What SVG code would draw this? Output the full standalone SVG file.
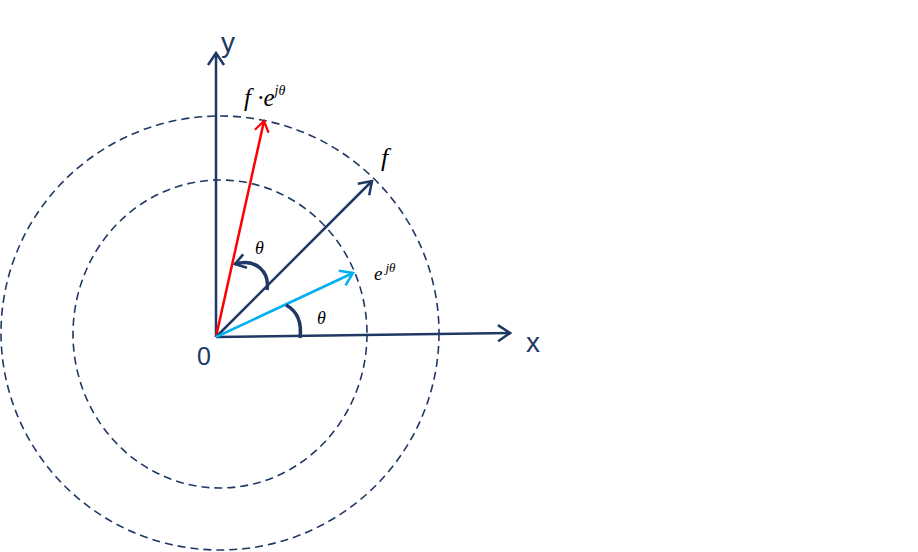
<svg xmlns="http://www.w3.org/2000/svg" width="918" height="552" viewBox="0 0 918 552">
<defs>
<style>
.ax{stroke:#1F3864;stroke-width:2.5;fill:none}
.circ{stroke:#1F3864;stroke-width:1.6;fill:none;stroke-dasharray:8 5}
.sans{font-family:"Liberation Sans",Arial,sans-serif;fill:#1F3864}
.math{font-family:"Liberation Serif","Times New Roman",serif;font-style:italic;fill:#000}
.ang{stroke:#1F3864;stroke-width:3.5;fill:none}
</style>
<marker id="hn" viewBox="0 0 16 20" refX="14" refY="10" markerWidth="16" markerHeight="20" markerUnits="userSpaceOnUse" orient="auto"><path d="M2,2 L14,10 L2,18" fill="none" stroke="#1F3864" stroke-width="2.5"/></marker>
<marker id="hr" viewBox="0 0 16 20" refX="14" refY="10" markerWidth="14" markerHeight="18" markerUnits="userSpaceOnUse" orient="auto"><path d="M2,2 L14,10 L2,18" fill="none" stroke="#FF0000" stroke-width="2.5"/></marker>
<marker id="hc" viewBox="0 0 16 20" refX="14" refY="10" markerWidth="16" markerHeight="20" markerUnits="userSpaceOnUse" orient="auto"><path d="M2,2 L14,10 L2,18" fill="none" stroke="#00B0F0" stroke-width="2.5"/></marker>
<marker id="ha" viewBox="0 0 16 20" refX="14" refY="10" markerWidth="14" markerHeight="18" markerUnits="userSpaceOnUse" orient="auto"><path d="M2,2 L14,10 L2,18" fill="none" stroke="#1F3864" stroke-width="3"/></marker>
</defs>
<rect width="918" height="552" fill="#fff"/>
<g id="circles">
<ellipse class="circ" cx="220" cy="333" rx="219" ry="217"/>
<ellipse class="circ" cx="220" cy="334" rx="147" ry="154"/>
</g>
<g id="connectors">
<line class="ax" x1="216" y1="337" x2="216" y2="53" marker-end="url(#hn)"/>
<line class="ax" x1="216" y1="337" x2="510" y2="333" marker-end="url(#hn)"/>
<line x1="216" y1="337" x2="264" y2="121" stroke="#FF0000" stroke-width="2.5" marker-end="url(#hr)"/>
<line class="ax" x1="216" y1="337" x2="372" y2="181" marker-end="url(#hn)"/>
<line x1="216" y1="337" x2="353" y2="273" stroke="#00B0F0" stroke-width="2.5" marker-end="url(#hc)"/>
<path class="ang" d="M267,290 C270,272 256,258 235,264" marker-end="url(#ha)"/>
<path class="ang" d="M300,338 C302,322 297,311 286,305"/>
</g>
<g id="labels">
<text class="sans" x="221" y="52" font-size="28">y</text>
<text class="sans" x="526" y="352" font-size="28">x</text>
<text class="sans" x="197" y="365" font-size="25">0</text>
<text class="math" x="244" y="106" font-size="25">f ·e<tspan font-size="14" dy="-11">jθ</tspan></text>
<text class="math" x="381" y="166" font-size="26">f</text>
<text class="math" x="374" y="280" font-size="19">e<tspan font-size="13" dx="3" dy="-8">jθ</tspan></text>
<text class="math" x="255" y="254" font-size="18">θ</text>
<text class="math" x="317" y="324" font-size="18">θ</text>
</g>
</svg>
